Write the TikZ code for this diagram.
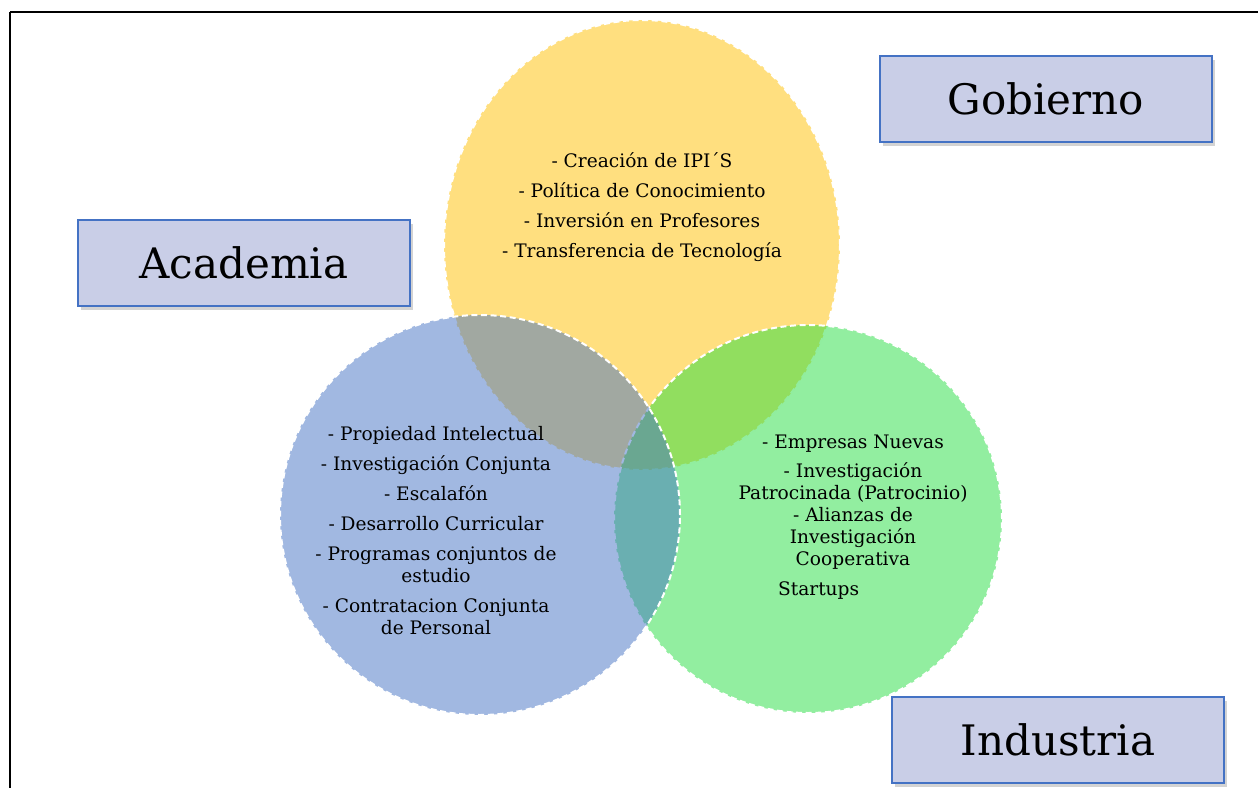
\documentclass[tikz,border=0pt]{standalone}
\usepackage{fontspec}
\setmainfont{DejaVu Serif}
\usetikzlibrary{shadows}
\definecolor{oro}{RGB}{255,192,0}
\definecolor{azul}{RGB}{68,114,196}
\definecolor{verde}{RGB}{37,221,65}
\definecolor{lila}{RGB}{201,206,231}

\begin{document}
\begin{tikzpicture}[x=0.5pt,y=-0.5pt,
  circulo/.style={fill opacity=0.5, draw=white, line width=1pt, dash pattern=on 3pt off 1.8pt},
  caja/.style={draw=azul, fill=lila, line width=0.7pt, minimum width=166pt, minimum height=43pt,
    font=\fontsize{21}{25}\selectfont, drop shadow={shadow xshift=1.5pt, shadow yshift=-1.8pt, opacity=0.35}},
  lista/.style={align=center, font=\fontsize{9.3}{11}\selectfont}]
\useasboundingbox (0,0) rectangle (1258,787);
\clip (0,0) rectangle (1258,787);
\draw [line width=1pt] (10,12) -- (1280,12);
\draw [line width=1pt] (10,12) -- (10,800);
% los tres circulos
\draw [circulo, fill=oro] (642,245) ellipse [x radius=99pt, y radius=112.5pt];
\draw [circulo, fill=verde] (808,519) circle [radius=97pt];
\draw [circulo, fill=azul] (480,515) circle [radius=100pt];
% textos
\node (gob-txt) [lista, font=\fontsize{9.3}{15}\selectfont] at (642,207) {- Creación de IPI´S\\- Política de Conocimiento\\- Inversión en Profesores\\- Transferencia de Tecnología};
\node (aca-txt) [lista] at (436,531) {- Propiedad Intelectual\\[4pt]- Investigación Conjunta\\[4pt]- Escalafón\\[4pt]- Desarrollo Curricular\\[4pt]- Programas conjuntos de\\estudio\\[4pt]- Contratacion Conjunta\\de Personal};
\node (ind-txt) [lista] at (853,502) {- Empresas Nuevas\\[3.5pt]- Investigación\\Patrocinada (Patrocinio)\\- Alianzas de\\Investigación\\Cooperativa};
\node (startups) [lista, anchor=west] at (771,591) {Startups};
% etiquetas
\node (academia) [caja] at (244,263) {Academia};
\node (gobierno) [caja] at (1046,99) {Gobierno};
\node (industria) [caja] at (1058,740) {Industria};
\end{tikzpicture}
\end{document}
